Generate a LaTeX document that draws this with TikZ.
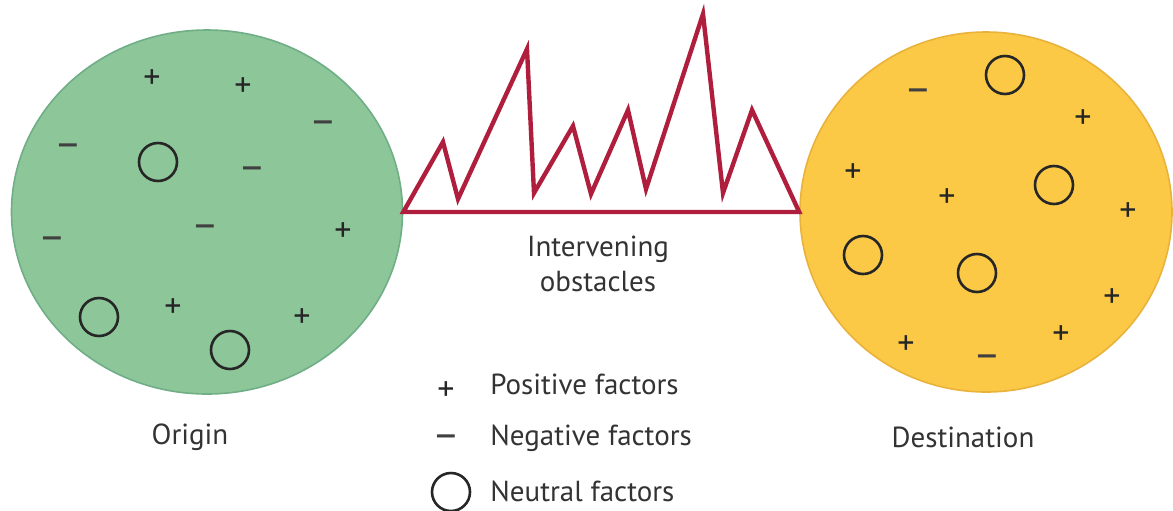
\documentclass[tikz,border=0pt]{standalone}
\usepackage{fontspec}
\setmainfont{PT Sans}
\usepackage{tikz}
\usetikzlibrary{positioning,shapes.geometric}
\definecolor{origingreen}{HTML}{8DC699}
\definecolor{originedge}{HTML}{6FAE86}
\definecolor{destyellow}{HTML}{FBC945}
\definecolor{destedge}{HTML}{E9B23C}
\definecolor{obstred}{HTML}{B01E3E}
\definecolor{labelgray}{HTML}{333333}

\begin{document}
\begin{tikzpicture}[x=0.5pt,y=-0.5pt,line join=miter,
  region/.style={ellipse,draw,line width=0.8pt,inner sep=0pt},
  posf/.style={font=\fontsize{17}{17}\selectfont,inner sep=0pt,text=black!85},
  negf/.style={font=\fontsize{21}{21}\selectfont,inner sep=0pt,text=black!75},
  neutf/.style={circle,draw=black!85,line width=1.3pt,minimum size=19pt,inner sep=0pt},
  caption/.style={font=\fontsize{14.5}{17.5}\selectfont,text=labelgray,align=center,inner sep=0pt}]
  \useasboundingbox (0,0) rectangle (1173,510);
  % the two places
  \node[region,fill=origingreen,draw=originedge,minimum width=195.5pt,minimum height=182pt] (origin) at (207,212) {};
  \node[region,fill=destyellow,draw=destedge,minimum width=186pt,minimum height=180pt]      (dest)   at (986,212) {};
  % obstacles between them
  \draw[obstred,line width=2.2pt] (origin.east) -- (443,142) -- (458,199) -- (527,49) -- (534,193)
    -- (573,126) -- (591,194) -- (628,110) -- (646,189) -- (703,14) -- (723,193)
    -- (752,110) -- (dest.west) -- cycle;
  % factors at the origin
  \foreach \x/\y [count=\i] in {152/79,243/87,343/232,173/308,302/318}
    \node[posf] (op\i) at (\x,\y) {+};
  \foreach \x/\y [count=\i] in {323/128,68/151,252/174,205/232,52/244}
    \node[negf] (on\i) at (\x,\y) {–};
  \foreach \x/\y [count=\i] in {158/162,99/317,230/350}
    \node[neutf] (oo\i) at (\x,\y) {};
  % factors at the destination
  \foreach \x/\y [count=\i] in {1083/119,853/173,947/198,1128/212,1112/298,1061/335,906/345}
    \node[posf] (dp\i) at (\x,\y) {+};
  \foreach \x/\y [count=\i] in {918/96,987/362}
    \node[negf] (dn\i) at (\x,\y) {–};
  \foreach \x/\y [count=\i] in {1005/75,1054/185,863/255,977/273}
    \node[neutf] (do\i) at (\x,\y) {};
  % captions
  \node[caption] (origintxt) at (190,437) {Origin};
  \node[caption] (desttxt)   at (963,437) {Destination};
  \node[caption] (obsttxt)   at (598,264) {Intervening\\obstacles};
  % legend
  \node[posf]  (lpos)  at (446,391) {+};
  \node[negf]  (lneg)  at (446,442) {–};
  \node[neutf] (lneut) at (451,492) {};
  \node[caption,anchor=west] (lpostxt)  at (490,384) {Positive factors};
  \node[caption,anchor=west] (lnegtxt)  at (490,438) {Negative factors};
  \node[caption,anchor=west] (lneuttxt) at (490,491) {Neutral factors};
\end{tikzpicture}
\end{document}
